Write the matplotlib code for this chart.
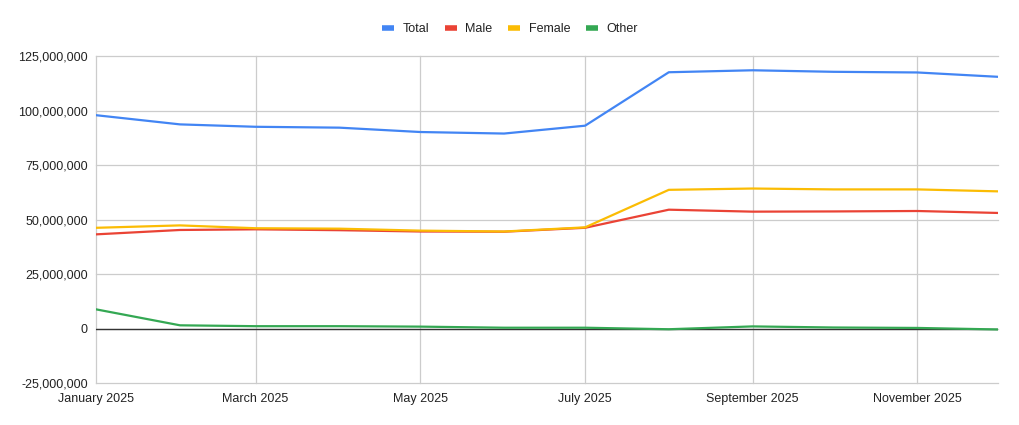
import matplotlib
matplotlib.use("Agg")
import matplotlib.pyplot as plt
import matplotlib.dates as mdates
from matplotlib.ticker import FuncFormatter, MultipleLocator
import pandas as pd

plt.rcParams['font.family'] = ['Liberation Sans', 'DejaVu Sans']

# monthly values
months = pd.date_range("2025-01-01", "2025-12-01", freq="MS")
total = [97.9, 93.7, 92.6, 92.2, 90.2, 89.5, 93.1, 117.6, 118.5, 117.8, 117.5, 115.5]
male = [43.3, 45.3, 45.6, 45.2, 44.6, 44.5, 46.3, 54.6, 53.7, 53.8, 54.0, 53.1]
female = [46.3, 47.4, 46.1, 45.9, 45.0, 44.6, 46.5, 63.7, 64.3, 63.9, 63.9, 63.0]
other = [8.9, 1.6, 1.2, 1.2, 1.0, 0.5, 0.5, -0.2, 1.1, 0.6, 0.4, -0.3]

series = [("Total", total, "#4285F4"),
          ("Male", male, "#EA4335"),
          ("Female", female, "#FBBC04"),
          ("Other", other, "#34A853")]

fig = plt.figure(figsize=(10.2, 4.25), dpi=100)
ax = fig.add_axes([0.0944, 0.098, 0.8843, 0.770])

ax.axhline(0, color="#333333", lw=1, zorder=1)
for name, vals, col in series:
    ax.plot(months, [v * 1e6 for v in vals], color=col, lw=1.6, label=name, zorder=3)

ax.set_xlim(months[0], months[-1])
ax.set_ylim(-25e6, 125e6)
ax.yaxis.set_major_locator(MultipleLocator(25e6))
ax.yaxis.set_major_formatter(FuncFormatter(lambda v, p: f"{v:,.0f}"))
ax.xaxis.set_major_locator(mdates.MonthLocator(bymonth=[1, 3, 5, 7, 9, 11]))
ax.xaxis.set_major_formatter(mdates.DateFormatter("%B %Y"))

ax.grid(True, color="#cccccc", lw=0.9, zorder=0)
ax.set_axisbelow(True)
for g in ax.get_xgridlines() + ax.get_ygridlines():
    g.set_clip_on(False)
for s in ax.spines.values():
    s.set_visible(False)
ax.tick_params(length=0, labelsize=9, colors="#222222", pad=6)
ax.tick_params(axis="x", pad=7)

leg = fig.legend(loc="upper center", bbox_to_anchor=(0.5, 0.972), ncol=4, frameon=False,
                 fontsize=9, handlelength=0.95, handletextpad=0.7, columnspacing=1.25)
for h in leg.get_lines():
    h.set_linewidth(4)
    h.set_solid_capstyle("butt")
for t in leg.get_texts():
    t.set_color("#222222")

fig.savefig("out.png", dpi=100)
